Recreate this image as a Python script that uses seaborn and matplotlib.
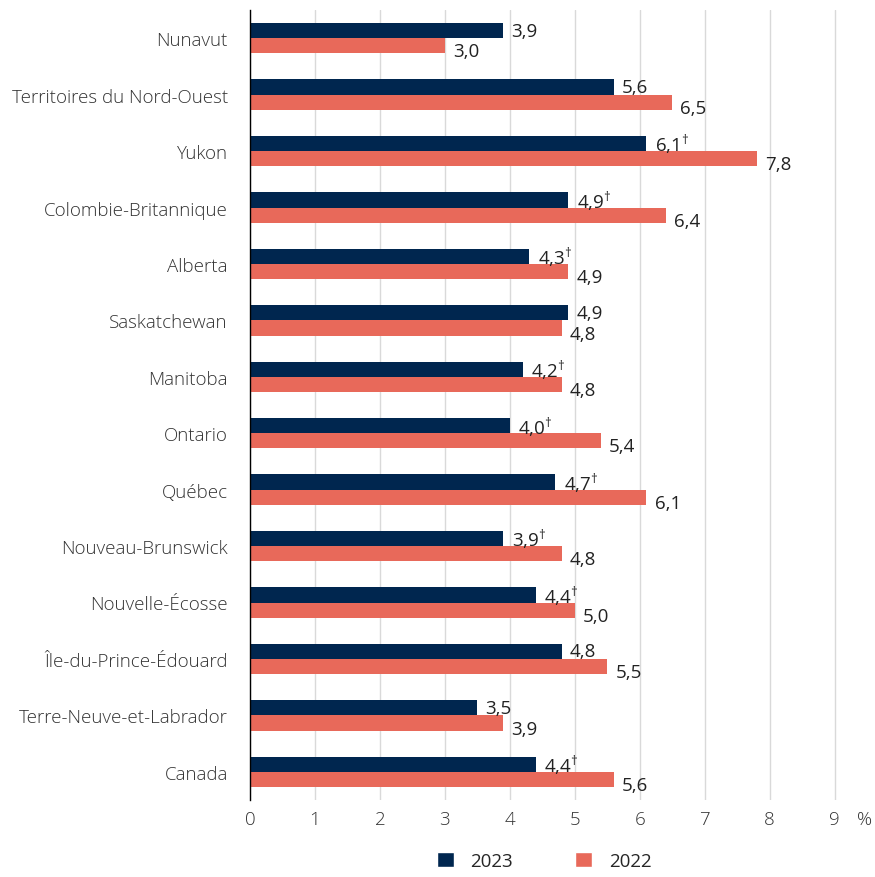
import matplotlib
matplotlib.use("Agg")
import matplotlib.pyplot as plt
from matplotlib.patches import Patch
import matplotlib.transforms as mtransforms
import numpy as np
import pandas as pd
import seaborn as sns

provinces = [
    "Nunavut", "Territoires du Nord-Ouest", "Yukon", "Colombie-Britannique",
    "Alberta", "Saskatchewan", "Manitoba", "Ontario", "Québec",
    "Nouveau-Brunswick", "Nouvelle-Écosse", "Île-du-Prince-Édouard",
    "Terre-Neuve-et-Labrador", "Canada",
]
val_2023 = [3.9, 5.6, 6.1, 4.9, 4.3, 4.9, 4.2, 4.0, 4.7, 3.9, 4.4, 4.8, 3.5, 4.4]
val_2022 = [3.0, 6.5, 7.8, 6.4, 4.9, 4.8, 4.8, 5.4, 6.1, 4.8, 5.0, 5.5, 3.9, 5.6]
signif_2023 = [False, False, True, True, True, False, True, True, True, True, True, False, False, True]
years = ["2023", "2022"]
x_ticks = list(range(10))

NAVY = "#00264f"
ORANGE = "#e8695a"
FS = 13.5

sns.set_style("white")
plt.rcParams["font.family"] = ["Open Sans", "DejaVu Sans"]
plt.rcParams["mathtext.fontset"] = "custom"
plt.rcParams["mathtext.rm"] = "Open Sans"

df = pd.DataFrame({
    "prov": provinces * 2,
    "val": val_2023 + val_2022,
    "year": [years[0]] * len(provinces) + [years[1]] * len(provinces),
})

fig = plt.figure(figsize=(8.75, 8.78), dpi=100)
ax = fig.add_axes([250 / 875, 1 - 801 / 878, 617 / 875, 790 / 878])

sns.barplot(data=df, y="prov", x="val", hue="year", orient="h",
            palette=[NAVY, ORANGE], saturation=1, width=0.54, dodge=True,
            linewidth=0, ax=ax, legend=False)

ax.set_xlim(0, 9.5)
ax.set_ylim(len(provinces) - 0.5, -0.5)
ax.set_xticks(x_ticks)
ax.set_xticklabels([str(t) for t in x_ticks])
ax.grid(axis="x", color="#d9d9d9", linewidth=1)
ax.set_axisbelow(True)
for s in ["top", "right", "bottom"]:
    ax.spines[s].set_visible(False)
ax.spines["left"].set_color("black")
ax.spines["left"].set_linewidth(1)

ax.tick_params(axis="x", length=0, pad=7, labelsize=FS, labelcolor="#333333")
ax.tick_params(axis="y", which="major", length=0, pad=16, labelsize=FS, labelcolor="#333333")
ax.set_yticks(np.arange(-0.5, len(provinces), 1), minor=True)
ax.tick_params(axis="y", which="minor", length=8, width=1, color="#555555", direction="out")
ax.set_xlabel("")
ax.set_ylabel("")
for lbl in ax.get_xticklabels() + ax.get_yticklabels():
    lbl.set_fontweight("light")

trans = mtransforms.blended_transform_factory(ax.transData, ax.transAxes)
ax.annotate("%", (9.35, 0), xycoords=trans, xytext=(0, -7), textcoords="offset points",
            ha="left", va="top", fontsize=FS, color="#333333", fontweight="light")

# value labels
for ci, cont in enumerate(ax.containers):
    for i, bar in enumerate(cont):
        w = bar.get_width()
        yc = bar.get_y() + bar.get_height() / 2
        txt = f"{w:.1f}".replace(".", ",")
        if ci == 0 and signif_2023[i]:
            txt += r"$^{†}$"
        dy = 0 if ci == 0 else -4
        ax.annotate(txt, (w, yc), xytext=(6, dy), textcoords="offset points",
                    ha="left", va="center", fontsize=FS, color="#222222")

handles = [Patch(facecolor=NAVY, label=years[0]), Patch(facecolor=ORANGE, label=years[1])]
fig.legend(handles=handles, loc="center", bbox_to_anchor=(544 / 875, 1 - 862 / 878),
           ncol=2, frameon=False, fontsize=FS, handlelength=0.9, handleheight=0.9,
           columnspacing=3.3, handletextpad=0.9)

fig.savefig("out.png", dpi=100)
